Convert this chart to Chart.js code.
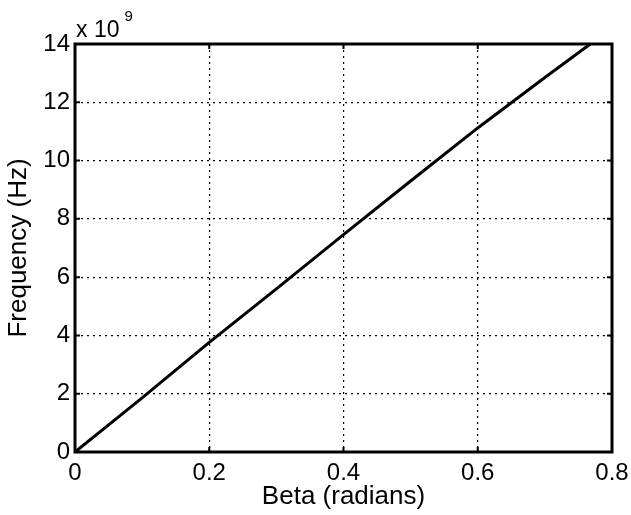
<!DOCTYPE html>
<html>
<head>
<meta charset="UTF-8">
<script src="https://cdn.jsdelivr.net/npm/chart.js"></script>
<style>
body { margin: 0; background: #fff; }
#wrap { width: 631px; height: 515px; }
</style>
</head>
<body>
<div id="wrap"><canvas id="c" width="631" height="515"></canvas></div>
<script>
// beta (radians) vs frequency, in units of 1e9 Hz
const beta = [0, 0.1, 0.2, 0.3, 0.4, 0.5, 0.6, 0.7, 0.8];
const freq = [0, 1.86, 3.76, 5.6, 7.46, 9.3, 11.12, 12.85, 14.55];
const xTicks = [0, 0.2, 0.4, 0.6, 0.8];
const yTicks = [0, 2, 4, 6, 8, 10, 12, 14];

const FONT = 'Liberation Sans, Arial, sans-serif';

// box, inward tick marks and the "x 10^9" exponent label, MATLAB style
const matlabBox = {
	id: 'matlabBox',
	afterDraw(chart) {
		const { ctx, chartArea: a, scales } = chart;
		ctx.save();
		ctx.strokeStyle = '#000';
		ctx.lineWidth = 2;
		const len = 5;
		xTicks.forEach(v => {
			const x = scales.x.getPixelForValue(v);
			ctx.beginPath();
			ctx.moveTo(x, a.bottom); ctx.lineTo(x, a.bottom - len);
			ctx.moveTo(x, a.top); ctx.lineTo(x, a.top + len);
			ctx.stroke();
		});
		yTicks.forEach(v => {
			const y = scales.y.getPixelForValue(v);
			ctx.beginPath();
			ctx.moveTo(a.left, y); ctx.lineTo(a.left + len, y);
			ctx.moveTo(a.right, y); ctx.lineTo(a.right - len, y);
			ctx.stroke();
		});
		ctx.lineWidth = 3;
		ctx.strokeRect(a.left, a.top, a.right - a.left, a.bottom - a.top);

		ctx.fillStyle = '#000';
		ctx.textBaseline = 'alphabetic';
		ctx.textAlign = 'left';
		ctx.font = '23px ' + FONT;
		ctx.fillText('x 10', a.left + 1, a.top - 7);
		const w = ctx.measureText('x 10').width;
		ctx.font = '15px ' + FONT;
		ctx.fillText('9', a.left + 1 + w + 5, a.top - 23);
		ctx.restore();
	}
};

const gridOpts = { color: '#000', lineWidth: 1.2, drawTicks: false };
const borderOpts = { display: false, dash: [2, 4] };

new Chart(document.getElementById('c'), {
	type: 'line',
	data: {
		datasets: [{
			data: beta.map((b, i) => ({ x: b, y: freq[i] })),
			borderColor: '#000',
			borderWidth: 3,
			pointRadius: 0,
			tension: 0,
			fill: false
		}]
	},
	options: {
		responsive: false,
		animation: false,
		layout: { padding: { top: 44, right: 19, left: 0, bottom: 0 } },
		plugins: { legend: { display: false }, tooltip: { enabled: false } },
		scales: {
			x: {
				type: 'linear', min: 0, max: 0.8,
				afterBuildTicks: s => { s.ticks = xTicks.map(v => ({ value: v })); },
				afterFit: s => { s.height = 63; s.paddingLeft = 0; s.paddingRight = 0; },
				grid: gridOpts,
				border: borderOpts,
				ticks: { color: '#000', font: { family: FONT, size: 24 }, padding: 7, maxRotation: 0,
					callback: v => String(v) },
				title: { display: true, text: 'Beta (radians)', color: '#000', font: { family: FONT, size: 26 }, padding: { top: 0, bottom: 3 } }
			},
			y: {
				type: 'linear', min: 0, max: 14,
				afterBuildTicks: s => { s.ticks = yTicks.map(v => ({ value: v })); },
				afterFit: s => { s.width = 75; s.paddingTop = 0; s.paddingBottom = 0; },
				grid: gridOpts,
				border: borderOpts,
				ticks: { color: '#000', font: { family: FONT, size: 24 }, padding: 5 },
				title: { display: true, text: 'Frequency (Hz)', color: '#000', font: { family: FONT, size: 26 }, padding: { top: 3, bottom: 0 } }
			}
		}
	},
	plugins: [matlabBox]
});
</script>
</body>
</html>
